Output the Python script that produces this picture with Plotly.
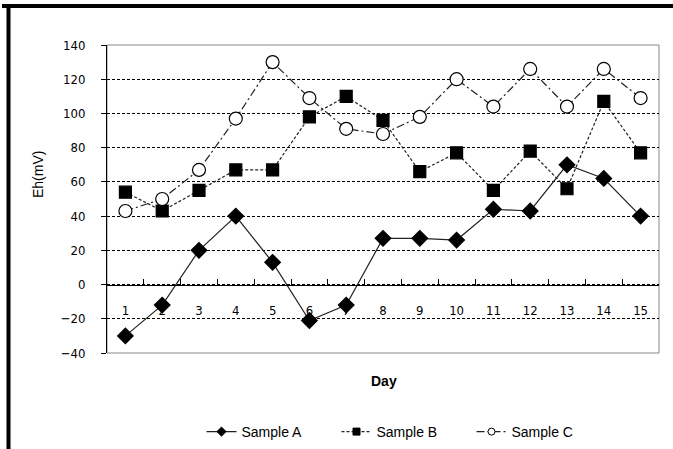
import plotly.graph_objects as go

days = [str(i) for i in range(1, 16)]
sample_a = [-30, -12, 20, 40, 13, -21, -12, 27, 27, 26, 44, 43, 70, 62, 40]
sample_b = [54, 43, 55, 67, 67, 98, 110, 96, 66, 77, 55, 78, 56, 107, 77]
sample_c = [43, 50, 67, 97, 130, 109, 91, 88, 98, 120, 104, 126, 104, 126, 109]
y_ticks = [-40, -20, 0, 20, 40, 60, 80, 100, 120, 140]

W, H = 673, 449
L, R, T, B = 107, 659, 45, 353
pw, ph = R - L, B - T

def px(x):
    return (x - L) / pw

def py(y):
    return (B - y) / ph

styles = [
    ("Sample A", sample_a, dict(color="#222", width=1.2), "diamond", 12, "black"),
    ("Sample B", sample_b, dict(color="#222", width=1.2, dash="3px,2px"), "square", 12, "black"),
    ("Sample C", sample_c, dict(color="#222", width=1.2, dash="8px,3px,2px,3px"), "circle", 13, "white"),
]

fig = go.Figure()
for name, vals, line, sym, size, fill in styles:
    fig.add_trace(go.Scatter(
        x=days, y=vals, name=name, mode="lines+markers", showlegend=False,
        line=line,
        marker=dict(symbol=sym, size=size, color=fill,
                    line=dict(color="black", width=1.2)),
    ))
# legend entries with small symbols, as in the reference
for name, vals, line, sym, size, fill in styles:
    fig.add_trace(go.Scatter(
        x=[None], y=[None], name=name, mode="lines+markers",
        line=line,
        marker=dict(symbol=sym, size=7, color=fill,
                    line=dict(color="black", width=1)),
    ))

fig.update_layout(
    width=W, height=H,
    margin=dict(l=L, r=W - R, t=T, b=H - B, autoexpand=False),
    paper_bgcolor="white", plot_bgcolor="white",
    showlegend=True,
    legend=dict(orientation="h", x=px(404), xanchor="center",
                y=py(432), yanchor="middle",
                font=dict(family="Liberation Sans, Arial", size=14, color="black"),
                entrywidth=90, tracegroupgap=0),
    xaxis=dict(
        type="category", range=[-0.5, 14.5],
        anchor="free", position=40 / 180,
        showline=True, linecolor="black", linewidth=1,
        ticks="inside", ticklen=6, tickcolor="black", tickson="boundaries",
        showgrid=False, zeroline=False,
        tickfont=dict(family="DejaVu Sans Condensed", size=13, color="black"),
        ticklabelstandoff=14,
        automargin=False,
    ),
    yaxis=dict(
        range=[-40, 140], tickvals=y_ticks,
        showline=True, linecolor="black", linewidth=1,
        ticks="outside", ticklen=5, tickcolor="black",
        showgrid=True, gridcolor="black", gridwidth=1, griddash="3px,2px",
        zeroline=False,
        tickfont=dict(family="DejaVu Sans Condensed", size=13, color="black"),
        ticklabelstandoff=13,
        automargin=False,
    ),
    shapes=[
        dict(type="rect", xref="paper", yref="paper", x0=0, x1=1, y0=0, y1=1,
             line=dict(color="#888", width=1), layer="below"),
        dict(type="line", xref="paper", yref="paper", x0=px(2), x1=px(673),
             y0=py(6), y1=py(6), line=dict(color="black", width=4)),
        dict(type="line", xref="paper", yref="paper", x0=px(8.5), x1=px(8.5),
             y0=py(4), y1=py(449), line=dict(color="black", width=4)),
    ],
    annotations=[
        dict(text="Day", xref="paper", yref="paper", x=px(384), y=py(381),
             showarrow=False, xanchor="center", yanchor="middle",
             font=dict(family="Liberation Sans, Arial", size=14, color="black", weight="bold")),
        dict(text="Eh(mV)", xref="paper", yref="paper", x=px(38), y=py(175),
             showarrow=False, xanchor="center", yanchor="middle", textangle=-90,
             font=dict(family="Liberation Sans, Arial", size=14, color="black")),
    ],
)

fig.write_html("out.html")
